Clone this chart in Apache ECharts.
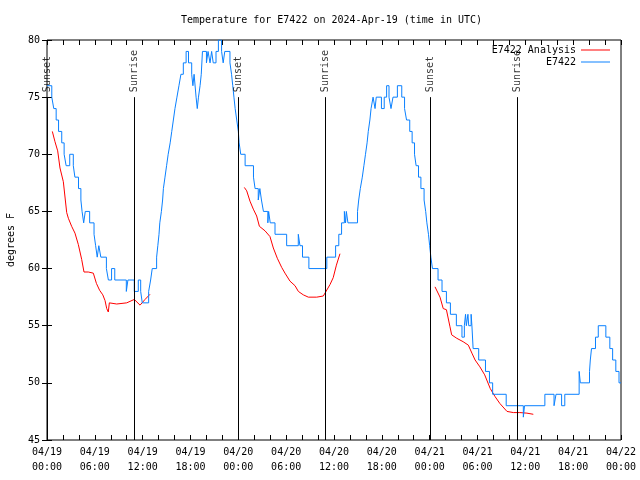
<!DOCTYPE html>
<html><head><meta charset="utf-8">
<script src="https://cdn.jsdelivr.net/npm/echarts@6/dist/echarts.min.js"></script>
<style>html,body{margin:0;padding:0;background:#fff}#c{width:640px;height:480px}</style>
</head><body><div id="c"></div>
<script>
const titleText = 'Temperature for E7422 on 2024-Apr-19 (time in UTC)';
const yTitle = 'degrees F';
const xTickLabels = ['04/19\n00:00','04/19\n06:00','04/19\n12:00','04/19\n18:00','04/20\n00:00','04/20\n06:00','04/20\n12:00','04/20\n18:00','04/21\n00:00','04/21\n06:00','04/21\n12:00','04/21\n18:00','04/22\n00:00'];

// hours since 04/19 00:00 UTC
const blueT = [0,0.6,0.85,1.15,1.45,1.85,2.15,2.4,2.85,3.3,3.5,3.95,4.25,4.4,4.6,4.8,5.35,5.9,6.1,6.3,6.5,6.75,7.45,7.7,8.1,8.5,9.95,10.15,10.95,11.45,11.75,11.95,12.75,13.0,13.2,13.75,13.9,14.05,14.15,14.35,14.5,14.6,14.8,15.0,15.2,15.45,15.65,15.85,16.05,16.3,16.55,16.8,17.1,17.45,17.75,18.15,18.3,18.45,18.7,18.85,19.0,19.2,19.35,19.5,20.0,20.2,20.45,20.65,20.85,21.2,21.5,21.9,22.1,22.3,22.95,23.15,23.3,23.45,23.6,23.8,24.0,24.1,24.3,24.85,25.9,26.1,26.5,26.7,26.9,27.15,27.7,27.8,28.0,28.6,30.06,31.52,31.73,32.05,32.85,35.1,36.2,36.6,36.95,37.3,37.45,37.55,37.75,38.95,39.1,39.3,39.55,39.75,39.95,40.15,40.3,40.5,40.65,40.9,41.15,41.3,41.95,42.3,42.6,42.9,43.15,43.4,43.95,44.5,44.85,45.1,45.5,45.8,46.1,46.3,46.6,46.9,47.3,47.5,47.65,47.85,48.0,48.15,48.35,49.05,49.55,50.1,50.6,51.35,52.05,52.35,52.5,52.6,52.8,52.9,53.2,53.3,53.45,54.15,55.0,55.5,55.9,57.6,59.75,59.9,62.45,63.6,63.85,64.55,64.95,66.75,66.9,68.05,68.15,68.3,68.8,69.15,70.1,70.6,70.95,71.35,71.75,72];
const blueV = [76,75,74,73,72,71,70,69,70,69,68,67,66,65,64,65,64,63,62,61,62,61,60,59,60,59,58,59,58,59,58,57,58,59,60,61,62,63,64,65,66,67,68,69,70,71,72,73,74,75,76,77,78,79,78,77,76,77,75,74,75,76,77,79,78,79,78,79,78,79,80,79,78,79,78,77,76,75,74,73,72,71,70,69,68,67,66,67,66,65,64,65,64,63,62,63,62,61,60,61,62,63,64,65,64,65,64,65,66,67,68,69,70,71,72,73,74,75,74,75,74,75,76,75,74,75,76,75,74,73,72,71,70,69,68,67,66,65,64,63,62,61,60,59,58,57,56,55,54,55,56,55,56,55,56,55,53,52,51,50,49,48,47,48,49,48,49,48,49,51,50,51,52,53,54,55,54,53,52,51,50,50];

const redT = [0.67,1.0,1.34,1.63,2.05,2.47,2.68,3.09,3.51,3.93,4.35,4.64,5.18,5.81,6.2,6.6,7.0,7.28,7.49,7.69,7.82,8.74,10.0,10.95,11.67,12.3,12.92,
  24.75,25.05,25.46,25.88,26.3,26.64,27.35,27.97,28.39,28.89,29.44,29.85,30.48,31.11,31.53,32.15,32.78,33.83,34.66,34.87,35.5,35.9,36.3,36.75,
  48.67,49.3,49.7,50.1,50.55,50.76,51.4,52.2,52.85,53.3,53.7,54.3,54.9,55.6,56.2,56.8,57.7,58.5,59.3,60.2,61.0];
const redV = [72.0,71.1,70.3,68.8,67.6,64.9,64.4,63.7,63.1,62.1,60.8,59.7,59.7,59.6,58.7,58.1,57.7,57.2,56.5,56.2,57.0,56.9,57.0,57.3,56.8,57.3,57.75,
  67.1,66.8,65.9,65.2,64.6,63.7,63.3,62.8,61.8,60.9,60.1,59.6,58.9,58.5,58.0,57.7,57.5,57.5,57.6,57.7,58.6,59.2,60.3,61.3,
  58.4,57.5,56.5,56.4,54.9,54.2,53.9,53.6,53.3,52.6,52.0,51.4,50.7,49.5,48.8,48.2,47.5,47.4,47.4,47.35,47.25];
// separate the three analysis runs
const redBreaks = [27, 51];

const eventT = [0.05,10.93,24.04,34.9,48.08,58.97];
const eventName = ['Sunset','Sunrise','Sunset','Sunrise','Sunset','Sunrise'];
const eventTop = 75, eventBottom = 45;

const FONT = 'DejaVu Sans Mono';
const blueData = blueT.map((t,i)=>[t, blueV[i]]);
const redData = [];
redT.forEach((t,i)=>{ if (redBreaks.includes(i)) redData.push([null,null]); redData.push([t, redV[i]]); });
const eventData = eventT.map((t,i)=>[t, eventTop, eventName[i]]);

const chart = echarts.init(document.getElementById('c'), null, {renderer:'canvas'});
const tickStyle = {show:true, inside:true, length:5, lineStyle:{color:'#000', width:1}};
chart.setOption({
  animation:false,
  backgroundColor:'#fff',
  textStyle:{fontFamily:FONT},
  title:{text:titleText, left:181, top:15, padding:0, textStyle:{fontFamily:FONT, fontSize:10, fontWeight:'normal', color:'#000'}},
  legend:{
    orient:'vertical', right:25, top:39, align:'right', itemGap:0, itemWidth:29, itemHeight:1, icon:'rect',
    textStyle:{fontFamily:FONT, fontSize:10, color:'#000', lineHeight:12},
    data:['E7422 Analysis','E7422']
  },
  grid:{left:47, right:19, top:40, bottom:40, containLabel:false, outerBoundsMode:'none',
    show:true, borderColor:'#000', borderWidth:1, backgroundColor:'transparent'},
  xAxis:[{
    type:'value', min:0, max:72, interval:2, position:'bottom',
    axisLine:{show:false}, splitLine:{show:false}, axisTick:tickStyle,
    axisLabel:{margin:5, fontFamily:FONT, fontSize:10, color:'#000', lineHeight:15,
      formatter:v => (v % 6 === 0) ? xTickLabels[v/6] : ''}
  },{
    type:'value', min:0, max:72, interval:2, position:'top',
    axisLine:{show:false}, splitLine:{show:false}, axisTick:tickStyle, axisLabel:{show:false}
  }],
  yAxis:[{
    type:'value', min:45, max:80, interval:5, position:'left',
    name:yTitle, nameLocation:'middle', nameRotate:90, nameGap:31,
    nameTextStyle:{fontFamily:FONT, fontSize:10, color:'#000'},
    axisLine:{show:false}, splitLine:{show:false}, axisTick:tickStyle,
    axisLabel:{margin:7, fontFamily:FONT, fontSize:10, color:'#000'}
  },{
    type:'value', min:45, max:80, interval:5, position:'right',
    axisLine:{show:false}, splitLine:{show:false}, axisTick:tickStyle, axisLabel:{show:false}
  }],
  series:[
    {name:'E7422 Analysis', type:'line', data:redData, symbol:'none', connectNulls:false,
      lineStyle:{color:'#ff0000', width:1}, itemStyle:{color:'#ff0000'}, z:3},
    {name:'E7422', type:'line', data:blueData, symbol:'none', step:'end',
      lineStyle:{color:'#0a80ff', width:1}, itemStyle:{color:'#0a80ff'}, z:4},
    {name:'events', type:'scatter', data:eventData, symbolSize:0, silent:true, z:5,
      label:{show:true, position:'top', distance:5, rotate:90, align:'left', verticalAlign:'middle',
        formatter:p=>p.data[2], fontFamily:FONT, fontSize:10, color:'#000'},
      markLine:{silent:true, symbol:['none','none'], label:{show:false},
        lineStyle:{color:'#000', width:1, type:'solid'},
        data:eventT.map(t=>[{coord:[t,eventTop]},{coord:[t,eventBottom]}])}
    }
  ]
});
</script></body></html>
